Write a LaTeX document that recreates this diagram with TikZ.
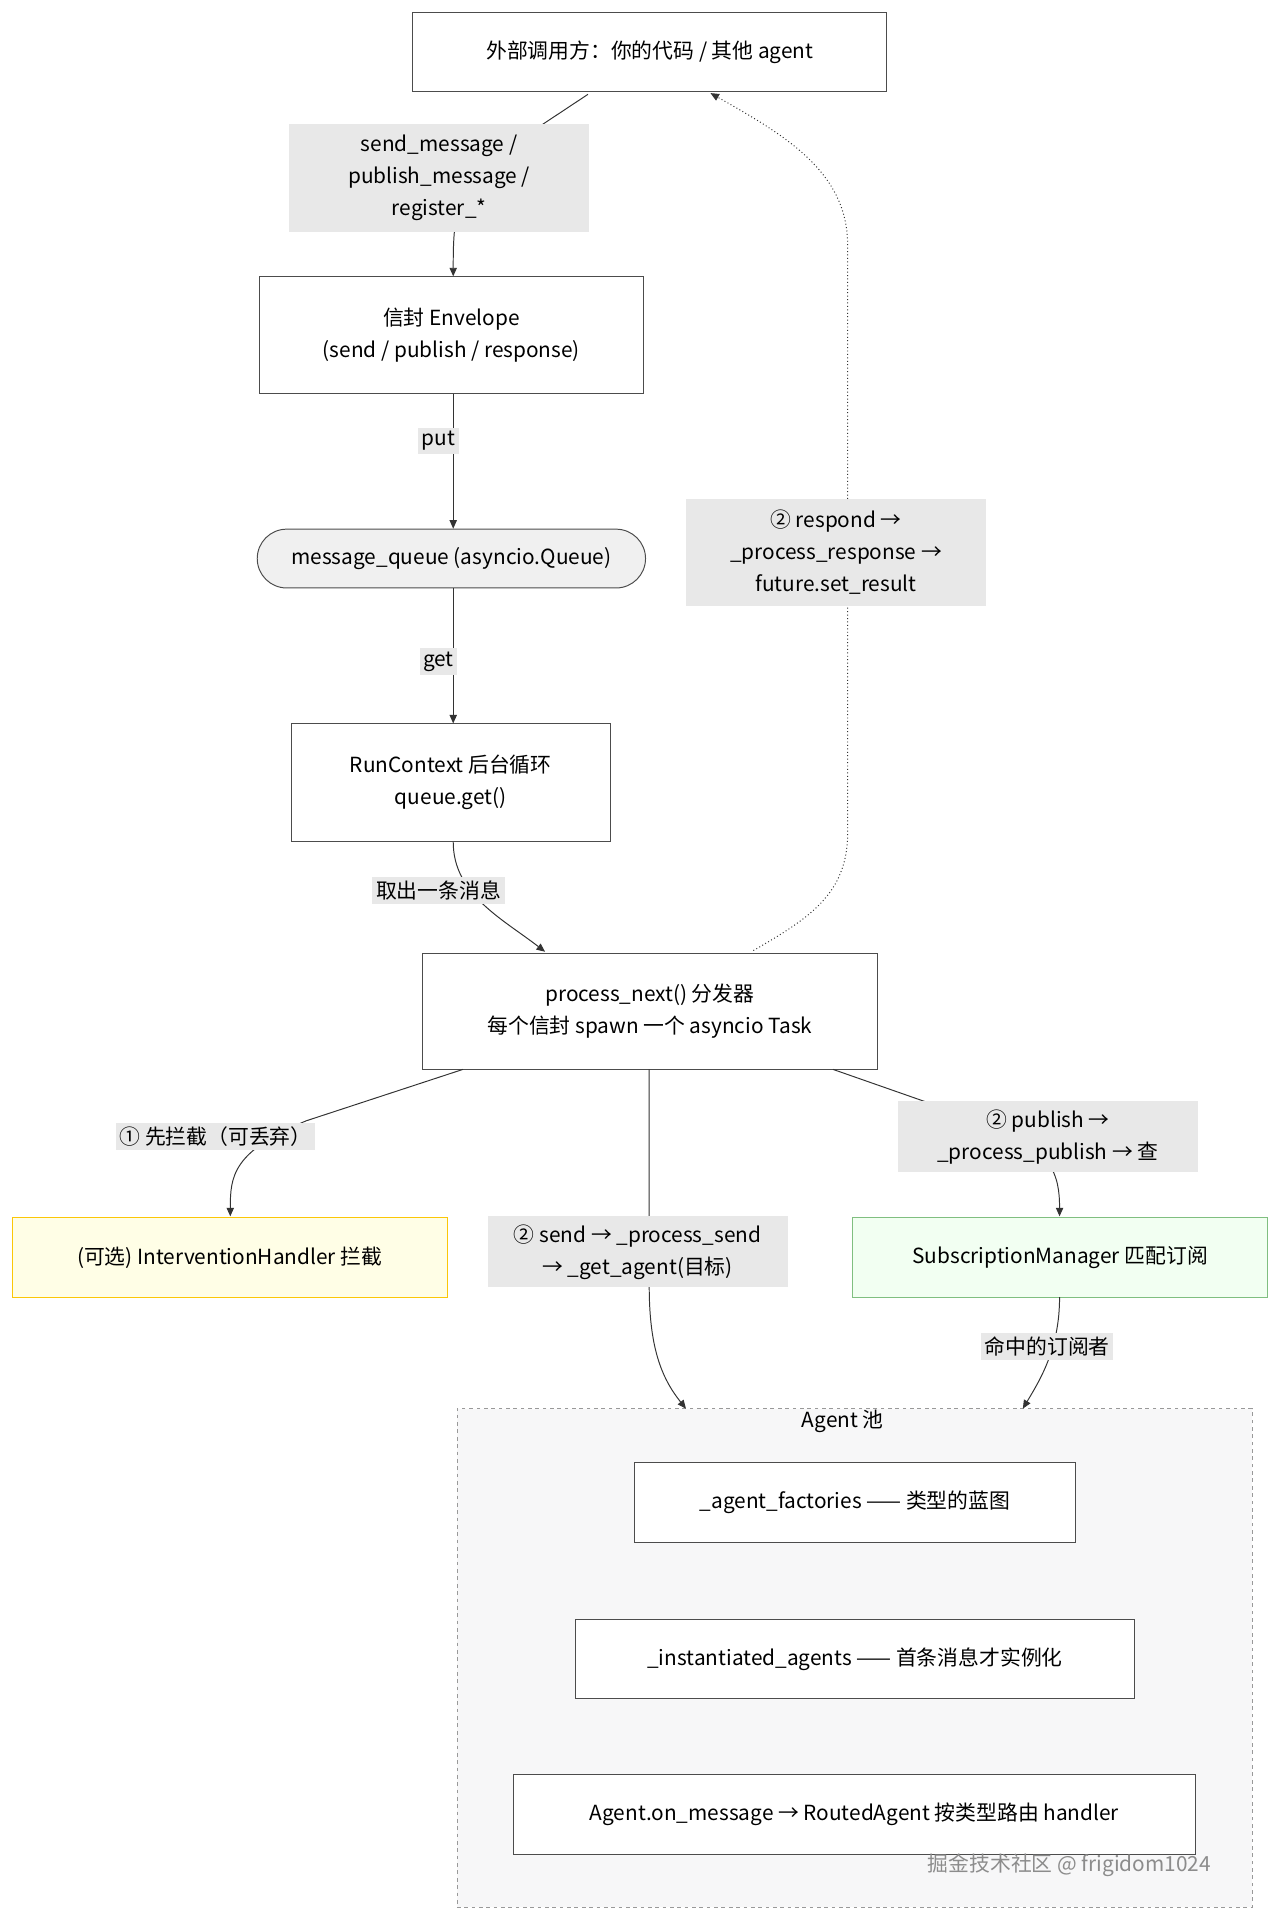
\documentclass[tikz,border=0pt]{standalone}
\usepackage{fontspec}
\setmainfont{Noto Sans CJK SC}
\usetikzlibrary{arrows.meta}
\begin{document}
\begin{tikzpicture}[x=1pt,y=-1pt,font=\fontsize{17}{26}\selectfont,
 box/.style={draw=black!70,line width=0.8pt,fill=white,inner sep=0pt,align=center},
 lbl/.style={fill=black!9,inner sep=3pt,align=center},
 ed/.style={draw=black!80,line width=0.8pt},
 ar/.style={ed,-{Triangle[length=7pt,width=6pt]}}]
\path[use as bounding box] (0,0) rectangle (1043,1565);
% cluster
\node[draw=black!40,dashed,fill=blue!3!black!3!white,minimum width=649pt,minimum height=407pt,inner sep=0pt] (pool) at (697.5,1353.5) {};
\node (pooltitle) at (688,1160) {Agent 池};
\node[box,minimum width=387pt,minimum height=65pt] (top) at (530.5,42.5) {外部调用方：你的代码 / 其他 agent};
\node[box,minimum width=313pt,minimum height=95pt] (env) at (368.5,273.5) {信封 Envelope\\(send / publish / response)};
\node[box,fill=black!6,rounded corners=24pt,minimum width=317pt,minimum height=48pt] (queue) at (368.5,456) {message\_queue (asyncio.Queue)};
\node[box,minimum width=260pt,minimum height=96pt] (run) at (368,639) {RunContext 后台循环\\queue.get()};
\node[box,minimum width=371pt,minimum height=95pt] (proc) at (530.5,825.5) {process\_next() 分发器\\每个信封 spawn 一个 asyncio Task};
\node[box,draw=yellow!60!orange,fill=yellow!10,minimum width=355pt,minimum height=65pt] (int) at (187.5,1026.5) {(可选) InterventionHandler 拦截};
\node[box,draw=green!50!black!50,fill=green!5,minimum width=339pt,minimum height=65pt] (sub) at (865.5,1026.5) {SubscriptionManager 匹配订阅};
\node[box,minimum width=360pt,minimum height=65pt] (fac) at (698,1226.5) {\_agent\_factories —— 类型的蓝图};
\node[box,minimum width=456pt,minimum height=65pt] (inst) at (698,1354.5) {\_instantiated\_agents —— 首条消息才实例化};
\node[box,minimum width=557pt,minimum height=65pt] (onm) at (697.5,1481.5) {Agent.on\_message → RoutedAgent 按类型路由 handler};
% edges
\coordinate (pA) at (560,1150);
\coordinate (pB) at (835,1150);
\draw[ar] (480,77) -- (400,130) .. controls (370,150) and (370,190) .. (env.north -| 370,0);
\draw[ar] (env.south -| 370,0) -- (queue.north -| 370,0);
\draw[ar] (queue.south -| 370,0) -- (run.north -| 370,0);
\draw[ar] (run.south -| 370,0) .. controls (370,730) and (410,750) .. (445,777);
\draw[ed,dotted,-{Triangle[length=7pt,width=6pt]}] (615,776) .. controls (660,750) and (692,730) .. (692,680) -- (692,200) .. controls (692,140) and (640,110) .. (580,76);
\draw[ar] (378,873) -- (250,915) .. controls (190,940) and (188,960) .. (188,993);
\draw[ar] (530,873) -- (530,1050) .. controls (530,1100) and (540,1125) .. (pA);
\draw[ar] (680,873) -- (800,915) .. controls (860,935) and (865,960) .. (865,993);
\draw[ar] (865,1059) .. controls (865,1100) and (850,1125) .. (pB);
% labels
\node[lbl,minimum width=245pt,minimum height=88pt] (l1) at (358.5,145) {send\_message /\\publish\_message /\\register\_*};
\node[lbl] (l2) at (358,360) {put};
\node[lbl] (l3) at (358,540) {get};
\node[lbl] (l4) at (358,727) {取出一条消息};
\node[lbl,minimum width=245pt,minimum height=88pt] (l5) at (682.5,451) {② respond →\\\_process\_response →\\future.set\_result};
\node[lbl] (l6) at (176,928) {① 先拦截（可丢弃）};
\node[lbl,minimum width=245pt,minimum height=58pt] (l7) at (520.5,1022) {② send → \_process\_send\\→ \_get\_agent(目标)};
\node[lbl,minimum width=245pt,minimum height=58pt] (l8) at (855.5,928) {② publish →\\\_process\_publish → 查};
\node[lbl] (l9) at (855,1099) {命中的订阅者};
\node[text=black!45] (wm) at (873,1523) {掘金技术社区 @ frigidom1024};
\end{tikzpicture}
\end{document}
